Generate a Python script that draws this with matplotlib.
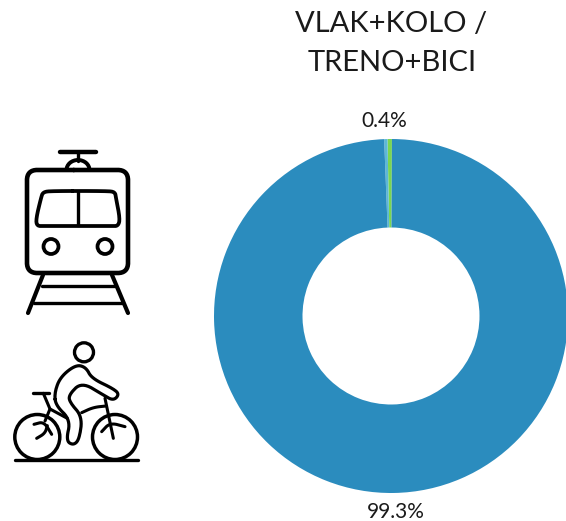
import numpy as np
import matplotlib
matplotlib.use("Agg")
import matplotlib.pyplot as plt
from matplotlib.patches import Circle, Arc

plt.rcParams['font.family'] = ['Lato', 'DejaVu Sans']

# data
values = [0.4, 0.3, 99.3]
colors = ['#7bd651', '#5cb8d6', '#2b8cbe']
label_top = "0.4%"
label_bottom = "99.3%"
title_lines = ["VLAK+KOLO /", "TRENO+BICI"]

W, H = 566, 521
fig = plt.figure(figsize=(W/100, H/100), dpi=100)

# donut, centre (391,316), radius 177 px; runs slightly off the right edge
ax = fig.add_axes([214/W, 1-493/H, 354/W, 354/H])
ax.pie(values, colors=colors, radius=1, startangle=89.7, counterclock=True,
       wedgeprops=dict(width=0.5, linewidth=0))
ax.set_xlim(-1, 1)
ax.set_ylim(-1, 1)

# overlay in pixel coords for text and icons
ov = fig.add_axes([0, 0, 1, 1])
ov.set_xlim(0, W)
ov.set_ylim(H, 0)
ov.axis('off')
ov.patch.set_alpha(0)

ov.text(391.5, 24, title_lines[0], ha='center', va='center', fontsize=21, color='#1a1a1a')
ov.text(392, 63, title_lines[1], ha='center', va='center', fontsize=21, color='#1a1a1a')
ov.text(384.7, 120.7, label_top, ha='center', va='center', fontsize=15, color='#1a1a1a')
ov.text(395.5, 512, label_bottom, ha='center', va='center', fontsize=15, color='#1a1a1a')

def smooth(pts, closed=False, n=3):
    # chaikin corner cutting
    p = np.array(pts, dtype=float)
    for _ in range(n):
        if closed:
            q = np.roll(p, -1, axis=0)
            p = np.column_stack([0.75*p+0.25*q, 0.25*p+0.75*q]).reshape(-1, 2)
        else:
            a, b = p[:-1], p[1:]
            mid = np.column_stack([0.75*a+0.25*b, 0.25*a+0.75*b]).reshape(-1, 2)
            p = np.vstack([p[0], mid, p[-1]])
    if closed:
        p = np.vstack([p, p[0]])
    return p

def line(pts, lw=3.2):
    p = np.array(pts, dtype=float)
    ov.plot(p[:, 0], p[:, 1], color='black', lw=lw, solid_capstyle='round',
            solid_joinstyle='round')

def rounded(x0, y0, x1, y1, r):
    return [(x0+r, y0), (x1-r, y0), (x1, y0), (x1, y0+r), (x1, y1-r), (x1, y1),
            (x1-r, y1), (x0+r, y1), (x0, y1), (x0, y1-r), (x0, y0+r), (x0, y0)]

# train icon
line([(60, 152), (96, 152)], lw=3.2)
line([(78, 152), (78, 161)], lw=2.4)
ov.add_patch(Arc((78, 170), 23, 20, theta1=180, theta2=360, color='black', lw=2.8))
line(smooth(rounded(27, 170, 128, 273, 21), closed=True), lw=3.3)
window = [(52, 191), (107, 191), (115, 192), (116, 198), (120, 219), (118, 226), (112, 226),
          (44, 226), (37, 226), (36, 219), (41, 198), (43, 192)]
line(smooth(window, closed=True, n=2), lw=2.7)
line([(78, 192), (78, 225)], lw=2.4)
for cx in (51, 105):
    ov.add_patch(Circle((cx, 246.5), 7.5, fill=False, ec='black', lw=2.7))
line([(43, 275), (28, 313)], lw=3)
line([(112, 275), (128, 313)], lw=3)
line([(42, 286), (115, 286)], lw=2.4)
line([(34, 303), (122, 303)], lw=2.4)

# bike icon, points read in the zoomed crops
def left(pts):
    return [(10+x/3, 385+y/3) for x, y in pts]

def right(pts):
    return [(50+x/3, 360+y/3) for x, y in pts]

ov.add_patch(Circle((84, 352.3), 9.5, fill=False, ec='black', lw=2.4))
ov.add_patch(Circle((37.3, 437), 22.5, fill=False, ec='black', lw=2.5))
ov.add_patch(Circle((115, 437), 22.5, fill=False, ec='black', lw=2.5))
line([(15, 460), (138, 460)], lw=2.4)
line(left([(70, 25), (118, 25)]), lw=2.4)
rider = [(16, 135), (14, 95), (32, 50), (78, 14), (108, 22), (125, 55), (190, 86), (208, 103),
         (190, 122), (160, 105), (95, 66), (56, 105), (60, 128), (97, 170), (88, 238), (70, 256),
         (48, 242), (62, 180)]
line(smooth(right(rider), closed=True, n=3), lw=2.3)
line(left([(100, 25), (120, 72), (105, 108)]), lw=2.2)
line(left([(120, 72), (172, 100)]), lw=2.2)
line(smooth(right([(95, 158), (130, 142), (168, 138)])), lw=2.2)
line(right([(165, 115), (190, 235)]), lw=2.2)
line(smooth(left([(72, 118), (102, 110), (125, 148)])), lw=2.2)
line(smooth(left([(80, 160), (105, 145), (112, 122)])), lw=2.2)
line(smooth(right([(155, 215), (180, 188), (225, 200)])), lw=2.2)

fig.savefig("out.png", dpi=100)
